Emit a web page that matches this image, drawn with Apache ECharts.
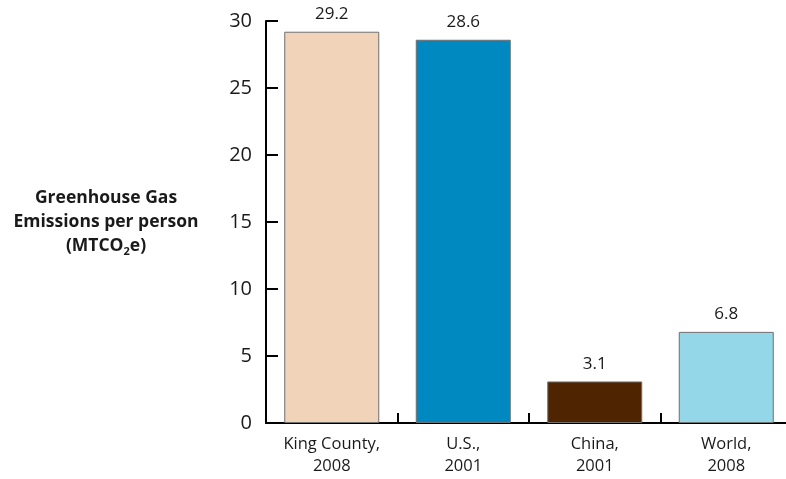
<!DOCTYPE html>
<html>
<head>
<meta charset="utf-8">
<script src="https://cdn.jsdelivr.net/npm/echarts@6/dist/echarts.min.js"></script>
<style>
  html, body { margin: 0; padding: 0; background: #fff; }
  #chart { width: 786px; height: 479px; }
</style>
</head>
<body>
<div id="chart"></div>
<script>
var categories = ['King County,\n2008', 'U.S.,\n2001', 'China,\n2001', 'World,\n2008'];
var emissions = [29.2, 28.6, 3.1, 6.8];
var barColors = ['#f0d3b8', '#0089c0', '#4f2400', '#94d7e8'];
var yTicks = [0, 5, 10, 15, 20, 25, 30];

(function() {
    var chart = echarts.init(document.getElementById('chart'), null, { renderer: 'canvas' });
    var font = 'Open Sans';
    var ink = '#1a1a1a';

    chart.setOption({
        animation: false,
        textStyle: { fontFamily: font },
        grid: { left: 266, top: 21, bottom: 56, width: 526, outerBoundsMode: 'none', containLabel: false },
        xAxis: {
            type: 'category',
            data: categories,
            axisLine: { lineStyle: { color: '#000', width: 2 } },
            axisTick: { show: true, inside: true, length: 10, lineStyle: { color: '#000', width: 2 } },
            axisLabel: { color: ink, fontSize: 16.5, lineHeight: 22, margin: 10, fontFamily: font, interval: 0 }
        },
        yAxis: {
            type: 'value',
            min: yTicks[0],
            max: yTicks[yTicks.length - 1],
            interval: 5,
            splitLine: { show: false },
            axisLine: { show: true, lineStyle: { color: '#000', width: 2 } },
            axisTick: { show: true, inside: true, length: 12, lineStyle: { color: '#000', width: 2 } },
            axisLabel: { color: ink, fontSize: 20, margin: 14, fontFamily: font },
            name: '{b|Greenhouse Gas}\n{b|Emissions per person}\n{b|(MTCO}{s|2}{b|e)}',
            nameLocation: 'middle',
            nameRotate: 0,
            nameGap: 160,
            nameTextStyle: {
                align: 'center',
                rich: {
                    b: { fontSize: 17.5, fontWeight: 'bold', color: ink, fontFamily: font, lineHeight: 24 },
                    s: { fontSize: 11, fontWeight: 'bold', color: ink, fontFamily: font, lineHeight: 24, padding: [12, 0, 0, 0] }
                }
            }
        },
        series: [{
            type: 'bar',
            data: emissions.map(function(v, i) {
                return { value: v, itemStyle: { color: barColors[i] } };
            }),
            barWidth: 95,
            itemStyle: { borderColor: '#6f6f6f', borderWidth: 1 },
            label: {
                show: true,
                position: 'top',
                distance: 9,
                color: ink,
                fontSize: 17,
                fontFamily: font
            }
        }]
    });
})();
</script>
</body>
</html>
